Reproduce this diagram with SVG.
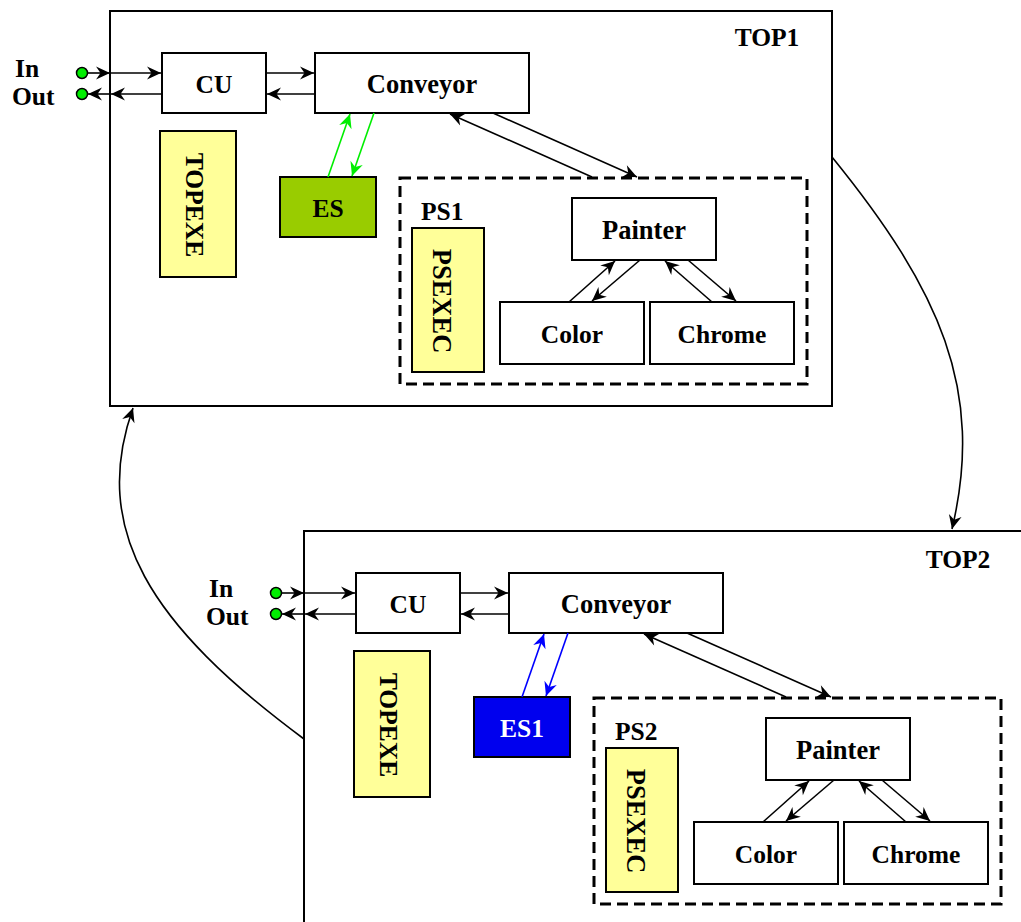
<svg xmlns="http://www.w3.org/2000/svg" width="1021" height="922" viewBox="0 0 1021 922">
  <style>
    .box { fill: #ffffff; stroke: #000000; stroke-width: 2; }
    .frame { fill: #ffffff; stroke: #000000; stroke-width: 2; }
    .exe { fill: #ffff99; stroke: #000000; stroke-width: 2; }
    .ps { fill: none; stroke: #000000; stroke-width: 3; stroke-dasharray: 11 6; }
    .lbl { font-family: "Liberation Serif", "Times New Roman", serif; font-weight: bold; font-size: 25.5px; fill: #000000; }
    .wide { font-size: 26.5px; }
    .mid { text-anchor: middle; }
    .line { fill: none; stroke: #000000; stroke-width: 1.6; marker-end: url(#ah); }
    .gline { fill: none; stroke: #00ee00; stroke-width: 1.6; marker-end: url(#ahg); }
    .bline { fill: none; stroke: #0000ff; stroke-width: 1.6; marker-end: url(#ahb); }
    .port { fill: #00ee00; stroke: #000000; stroke-width: 1.5; }
  </style>
  <defs>
    <marker id="ah" markerUnits="userSpaceOnUse" markerWidth="15" markerHeight="13" refX="14" refY="6.5" orient="auto" overflow="visible">
      <path d="M0,0 L14,6.5 L0,13 L4.5,6.5 z" fill="#000000"/>
    </marker>
    <marker id="ahg" markerUnits="userSpaceOnUse" markerWidth="15" markerHeight="13" refX="14" refY="6.5" orient="auto" overflow="visible">
      <path d="M0,0 L14,6.5 L0,13 L4.5,6.5 z" fill="#00ee00"/>
    </marker>
    <marker id="ahb" markerUnits="userSpaceOnUse" markerWidth="15" markerHeight="13" refX="14" refY="6.5" orient="auto" overflow="visible">
      <path d="M0,0 L14,6.5 L0,13 L4.5,6.5 z" fill="#0000ff"/>
    </marker>
  </defs>

  <!-- ===== TOP1 ===== -->
  <g id="top1">
    <rect class="frame" x="110" y="11" width="722" height="395"/>
    <text class="lbl mid" x="767" y="46">TOP1</text>
  </g>
  <g id="top1-ports">
    <text class="lbl" x="15" y="77">In</text>
    <text class="lbl" x="12" y="105">Out</text>
    <circle class="port" cx="82" cy="73" r="5.5"/>
    <circle class="port" cx="82" cy="94" r="5.5"/>
  </g>
  <g id="top1-cu">
    <rect class="box" x="162" y="53" width="104" height="60"/>
    <text class="lbl mid" x="214" y="93">CU</text>
  </g>
  <g id="top1-conveyor">
    <rect class="box" x="315" y="53" width="214" height="60"/>
    <text class="lbl wide mid" x="422" y="93">Conveyor</text>
  </g>
  <g id="top1-topexe">
    <rect class="exe" x="160" y="131" width="76" height="146"/>
    <text class="lbl mid" transform="translate(186,205) rotate(90)">TOPEXE</text>
  </g>
  <g id="top1-es">
    <rect x="280" y="177" width="96" height="60" fill="#99cc00" stroke="#000000" stroke-width="2"/>
    <text class="lbl mid" x="328" y="217">ES</text>
  </g>
  <g id="top1-ps1">
    <rect class="ps" x="400" y="178" width="407" height="206"/>
    <text class="lbl" x="421" y="220">PS1</text>
  </g>
  <g id="top1-psexec">
    <rect class="exe" x="412" y="228" width="72" height="144"/>
    <text class="lbl wide mid" transform="translate(433,301) rotate(90)">PSEXEC</text>
  </g>
  <g id="top1-painter">
    <rect class="box" x="572" y="198" width="144" height="62"/>
    <text class="lbl wide mid" x="644" y="239">Painter</text>
  </g>
  <g id="top1-color">
    <rect class="box" x="500" y="302" width="144" height="62"/>
    <text class="lbl mid" x="572" y="343">Color</text>
  </g>
  <g id="top1-chrome">
    <rect class="box" x="650" y="302" width="144" height="62"/>
    <text class="lbl mid" x="722" y="343">Chrome</text>
  </g>

  <!-- ===== TOP2 ===== -->
  <g id="top2">
    <rect class="frame" x="304" y="531" width="722" height="395"/>
    <text class="lbl mid" x="958" y="568">TOP2</text>
  </g>
  <g id="top2-ports">
    <text class="lbl" x="209" y="597">In</text>
    <text class="lbl" x="206" y="625">Out</text>
    <circle class="port" cx="276" cy="593" r="5.5"/>
    <circle class="port" cx="276" cy="614" r="5.5"/>
  </g>
  <g id="top2-cu">
    <rect class="box" x="356" y="573" width="104" height="60"/>
    <text class="lbl mid" x="408" y="613">CU</text>
  </g>
  <g id="top2-conveyor">
    <rect class="box" x="509" y="573" width="214" height="60"/>
    <text class="lbl wide mid" x="616" y="613">Conveyor</text>
  </g>
  <g id="top2-topexe">
    <rect class="exe" x="354" y="651" width="76" height="146"/>
    <text class="lbl mid" transform="translate(380,725) rotate(90)">TOPEXE</text>
  </g>
  <g id="top2-es1">
    <rect x="474" y="697" width="96" height="60" fill="#0000ee" stroke="#000000" stroke-width="2"/>
    <text class="lbl mid" x="522" y="737" style="fill:#ffffff">ES1</text>
  </g>
  <g id="top2-ps2">
    <rect class="ps" x="594" y="698" width="407" height="206"/>
    <text class="lbl" x="615" y="740">PS2</text>
  </g>
  <g id="top2-psexec">
    <rect class="exe" x="606" y="748" width="72" height="144"/>
    <text class="lbl wide mid" transform="translate(627,821) rotate(90)">PSEXEC</text>
  </g>
  <g id="top2-painter">
    <rect class="box" x="766" y="718" width="144" height="62"/>
    <text class="lbl wide mid" x="838" y="759">Painter</text>
  </g>
  <g id="top2-color">
    <rect class="box" x="694" y="822" width="144" height="62"/>
    <text class="lbl mid" x="766" y="863">Color</text>
  </g>
  <g id="top2-chrome">
    <rect class="box" x="844" y="822" width="144" height="62"/>
    <text class="lbl mid" x="916" y="863">Chrome</text>
  </g>

  <!-- ===== connectors ===== -->
  <g id="connectors">
    <!-- TOP1 -->
    <line class="line" x1="88" y1="73" x2="110" y2="73"/>
    <line class="line" x1="110" y1="73" x2="161" y2="73"/>
    <line class="line" x1="162" y1="94" x2="111" y2="94"/>
    <line class="line" x1="110" y1="94" x2="88" y2="94"/>
    <line class="line" x1="266" y1="73" x2="314" y2="73"/>
    <line class="line" x1="315" y1="94" x2="267" y2="94"/>
    <line class="gline" x1="328" y1="177" x2="350" y2="114"/>
    <line class="gline" x1="374" y1="113" x2="352" y2="176"/>
    <line class="line" x1="493" y1="113" x2="637" y2="177"/>
    <line class="line" x1="592" y1="177" x2="450" y2="114"/>
    <line class="line" x1="569" y1="302" x2="615" y2="261"/>
    <line class="line" x1="640" y1="260" x2="592" y2="301"/>
    <line class="line" x1="712" y1="302" x2="665" y2="261"/>
    <line class="line" x1="688" y1="260" x2="736" y2="301"/>

    <!-- TOP2 -->
    <line class="line" x1="282" y1="593" x2="304" y2="593"/>
    <line class="line" x1="304" y1="593" x2="355" y2="593"/>
    <line class="line" x1="356" y1="614" x2="305" y2="614"/>
    <line class="line" x1="304" y1="614" x2="282" y2="614"/>
    <line class="line" x1="460" y1="593" x2="508" y2="593"/>
    <line class="line" x1="509" y1="614" x2="461" y2="614"/>
    <line class="bline" x1="522" y1="697" x2="544" y2="634"/>
    <line class="bline" x1="568" y1="633" x2="546" y2="696"/>
    <line class="line" x1="687" y1="633" x2="831" y2="697"/>
    <line class="line" x1="786" y1="697" x2="644" y2="634"/>
    <line class="line" x1="763" y1="822" x2="809" y2="781"/>
    <line class="line" x1="834" y1="780" x2="786" y2="821"/>
    <line class="line" x1="906" y1="822" x2="859" y2="781"/>
    <line class="line" x1="882" y1="780" x2="930" y2="821"/>

    <!-- between the two tops -->
    <path class="line" d="M832,157 C940,290 985,390 952,529"/>
    <path class="line" d="M304,739 C150,625 90,530 133,408"/>
  </g>
</svg>
